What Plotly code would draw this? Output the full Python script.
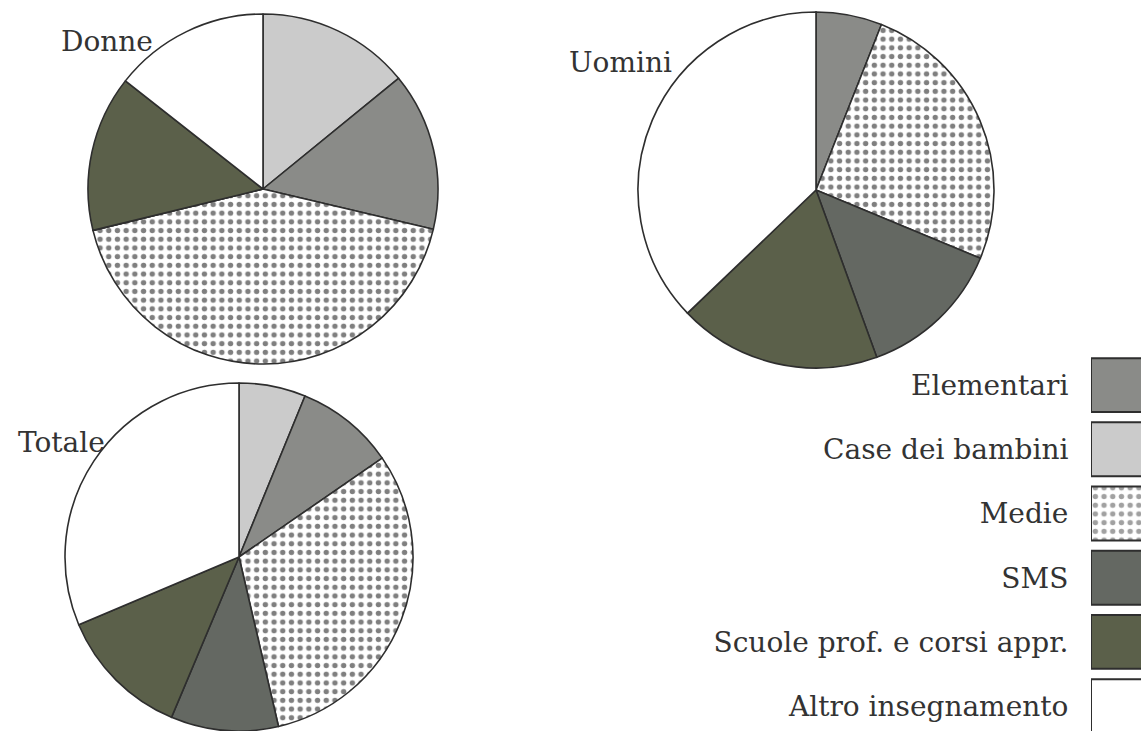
import plotly.graph_objects as go

# Categories in clockwise slice order
categories = ["Case dei bambini", "Elementari", "Medie", "SMS",
              "Scuole prof. e corsi appr.", "Altro insegnamento"]
donne = [14.1, 14.6, 42.5, 0.0, 14.4, 14.4]
uomini = [0.0, 6.0, 25.3, 13.2, 18.4, 37.2]
totale = [6.2, 9.2, 31.0, 10.0, 12.3, 31.4]

legend_order = ["Elementari", "Case dei bambini", "Medie", "SMS",
                "Scuole prof. e corsi appr.", "Altro insegnamento"]

colors = {
    "Case dei bambini": "#cbcbcb",
    "Elementari": "#8a8b88",
    "Medie": "#ffffff",
    "SMS": "#646862",
    "Scuole prof. e corsi appr.": "#5b604a",
    "Altro insegnamento": "#ffffff",
}
shapes_pat = {c: "" for c in categories}
shapes_pat["Medie"] = "."

W, H = 1141, 731
FONT = "DejaVu Serif"
TXT = "#333333"


def pie(values, cx, cy, r):
    return go.Pie(
        labels=categories, values=values, sort=False, direction="clockwise",
        rotation=0, textinfo="none", hoverinfo="label+percent",
        showlegend=False,
        marker=dict(
            colors=[colors[c] for c in categories],
            line=dict(color="#2e2e2e", width=1.6),
            pattern=dict(shape=[shapes_pat[c] for c in categories],
                         fgcolor="#000000", bgcolor=[colors[c] for c in categories],
                         size=8.7, solidity=0.3, fillmode="overlay"),
        ),
        domain=dict(x=[(cx - r) / W, (cx + r) / W],
                    y=[max(0, 1 - (cy + r) / H), 1 - (cy - r) / H]),
    )


fig = go.Figure()
fig.add_trace(pie(donne, 263, 189, 175))
fig.add_trace(pie(uomini, 816, 190, 178))
fig.add_trace(pie(totale, 239, 557, 174))

# Legend swatches as horizontal bars on a hidden axis
fig.add_trace(go.Bar(
    y=legend_order, x=[1.2] * len(legend_order), orientation="h",
    width=0.84, showlegend=False, hoverinfo="y",
    marker=dict(
        color=[colors[c] for c in legend_order],
        line=dict(color="#2e2e2e", width=2),
        pattern=dict(shape=[shapes_pat[c] for c in legend_order],
                     fgcolor="#000000", bgcolor=[colors[c] for c in legend_order],
                     size=8.7, solidity=0.3, fillmode="overlay"),
    ),
    xaxis="x", yaxis="y",
))

top_px = 353
pitch = 64.2
fig.update_layout(
    width=W, height=H,
    margin=dict(l=0, r=0, t=0, b=0),
    paper_bgcolor="white", plot_bgcolor="white",
    font=dict(family=FONT, color=TXT),
    xaxis=dict(domain=[1091 / W, 1.0], range=[0, 1], visible=False, fixedrange=True),
    yaxis=dict(domain=[0, 1 - top_px / H], type="category",
               categoryorder="array", categoryarray=legend_order,
               range=[-0.5 + (H - top_px) / pitch, -0.5],
               showgrid=False, zeroline=False, showline=False,
               ticks="outside", ticklen=16, tickcolor="rgba(0,0,0,0)",
               tickfont=dict(family=FONT, size=28, color=TXT), fixedrange=True),
    bargap=0.16,
)

labels = [("Donne", 107, 42), ("Uomini", 620, 63), ("Totale", 61, 442)]
for text, x, y in labels:
    fig.add_annotation(text=text, x=x / W, y=1 - y / H, xref="paper", yref="paper",
                       showarrow=False, xanchor="center", yanchor="middle",
                       font=dict(family=FONT, size=28, color=TXT))

fig.write_html(
    "out.html",
    config={"displayModeBar": False},
    post_script="document.body.style.margin='0';document.body.style.overflow='hidden';",
)
